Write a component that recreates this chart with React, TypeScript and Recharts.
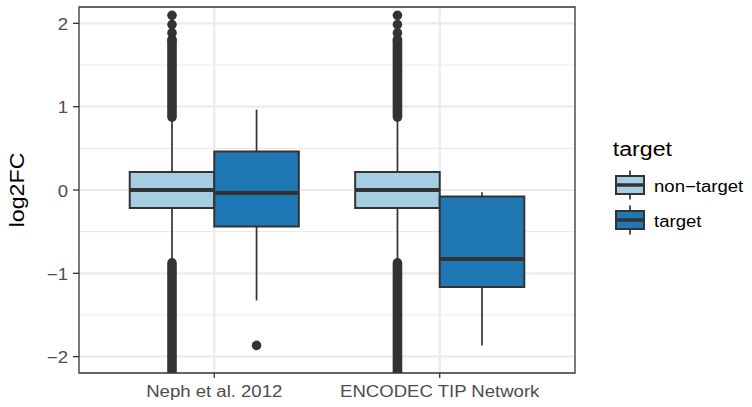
import React from "react";
import {
  ComposedChart,
  XAxis,
  YAxis,
  CartesianGrid,
  ReferenceArea,
  ReferenceLine,
  Scatter,
  Legend,
  Label,
} from "recharts";

// ---------------- data ----------------
const categories = ["Neph et al. 2012", "ENCODEC TIP Network"];
const groups = ["non\u2212target", "target"];
const legendTitle = "target";
const yAxisTitle = "log2FC";
const yTicks = [-2, -1, 0, 1, 2];
const yMinorTicks = [-1.5, -0.5, 0.5, 1.5];

// box statistics, one value per category
const nonTargetLower = [-0.86, -0.86];
const nonTargetQ1 = [-0.216, -0.216];
const nonTargetMedian = [0.0, 0.0];
const nonTargetQ3 = [0.216, 0.216];
const nonTargetUpper = [0.86, 0.86];

const targetLower = [-1.325, -1.865];
const targetQ1 = [-0.437, -1.164];
const targetMedian = [-0.036, -0.828];
const targetQ3 = [0.463, -0.077];
const targetUpper = [0.964, -0.028];

// dense runs of overlapping outlier points [from, to], per category
const nonTargetOutlierRuns = [
  [
    [0.875, 1.8],
    [-2.6, -0.875],
  ],
  [
    [0.875, 1.8],
    [-2.6, -0.875],
  ],
];
// individual outlier points, per category
const nonTargetOutliers = [
  [2.096, 1.985, 1.885, 1.8],
  [2.096, 1.985, 1.885, 1.8],
];
const targetOutliers = [[-1.865], []];

// ---------------- style ----------------
const FONT = "'Liberation Sans', Arial, Helvetica, sans-serif";
const STRETCH = 1.16;
const DARK = "#333333";
const groupFill = ["#a6cee3", "#1f78b4"];
const DODGE = 0.1875;
const BOX_W = 0.375;
const Y_DOMAIN: [number, number] = [-2.196, 2.196];
const X_DOMAIN: [number, number] = [0.4, 2.6];

const boxes = categories.flatMap((_, i) => [
  {
    g: 0,
    x: i + 1 - DODGE,
    lower: nonTargetLower[i],
    q1: nonTargetQ1[i],
    med: nonTargetMedian[i],
    q3: nonTargetQ3[i],
    upper: nonTargetUpper[i],
    runs: nonTargetOutlierRuns[i],
  },
  {
    g: 1,
    x: i + 1 + DODGE,
    lower: targetLower[i],
    q1: targetQ1[i],
    med: targetMedian[i],
    q3: targetQ3[i],
    upper: targetUpper[i],
    runs: [] as number[][],
  },
]);

const outlierPoints = categories.flatMap((_, i) => [
  ...nonTargetOutliers[i].map((v) => ({ x: i + 1 - DODGE, y: v })),
  ...targetOutliers[i].map((v) => ({ x: i + 1 + DODGE, y: v })),
]);

const fmtY = (v: number) => (v < 0 ? "\u2212" + Math.abs(v) : String(v));

const XTick = (props: any) => {
  const { x, y, payload } = props;
  return (
    <text
      transform={`translate(${x},${y + 18.5}) scale(${STRETCH},1)`}
      textAnchor="middle"
      fill="#4d4d4d"
      fontSize={16}
      fontFamily={FONT}
    >
      {categories[Math.round(payload.value) - 1]}
    </text>
  );
};

const YTick = (props: any) => {
  const { x, y, payload } = props;
  return (
    <text
      transform={`translate(${x - 5},${y + 1}) scale(${STRETCH},1)`}
      textAnchor="end"
      dominantBaseline="central"
      fill="#4d4d4d"
      fontSize={16}
      fontFamily={FONT}
    >
      {fmtY(payload.value)}
    </text>
  );
};

const YTitle = (props: any) => {
  const vb = props.viewBox || { x: 0, y: 7, width: 79, height: 366 };
  return (
    <text
      transform={`translate(${vb.x + 24},${vb.y + vb.height / 2}) rotate(-90) scale(${STRETCH},1)`}
      textAnchor="middle"
      fill="#000000"
      fontSize={20}
      fontFamily={FONT}
    >
      {yAxisTitle}
    </text>
  );
};

const LegendContent = () => (
  <svg width={150} height={110} style={{ display: "block" }}>
    <text
      transform={`translate(12.7,25.5) scale(${STRETCH},1)`}
      fontSize={20}
      fill="#000000"
      fontFamily={FONT}
    >
      {legendTitle}
    </text>
    {groups.map((g, i) => {
      const cy = 55 + i * 35;
      return (
        <g key={g}>
          <line x1={30} x2={30} y1={cy - 14.5} y2={cy + 14.5} stroke={DARK} strokeWidth={1.7} />
          <rect x={16} y={cy - 9} width={28} height={18} fill={groupFill[i]} stroke={DARK} strokeWidth={2} />
          <line x1={16} x2={44} y1={cy} y2={cy} stroke={DARK} strokeWidth={3.5} />
          <text
            transform={`translate(54,${cy + 1}) scale(${STRETCH},1)`}
            dominantBaseline="central"
            fontSize={16}
            fill="#000000"
            fontFamily={FONT}
          >
            {g}
          </text>
        </g>
      );
    })}
  </svg>
);

export default function App() {
  return (
    <div style={{ position: "absolute", left: 0, top: 0, background: "#ffffff" }}>
      <ComposedChart
        width={752}
        height={407}
        margin={{ top: 7, right: 177, bottom: 0, left: 0 }}
      >
        <CartesianGrid
          horizontalValues={yMinorTicks}
          vertical={false}
          stroke="#ebebeb"
          strokeWidth={1.1}
        />
        <CartesianGrid
          horizontalValues={yTicks}
          verticalValues={[1, 2]}
          stroke="#ebebeb"
          strokeWidth={2.2}
        />
        <XAxis
          type="number"
          dataKey="x"
          domain={X_DOMAIN}
          allowDataOverflow
          ticks={[1, 2]}
          interval={0}
          height={34}
          tickSize={5}
          tickMargin={0}
          axisLine={false}
          tickLine={{ stroke: DARK, strokeWidth: 1.3 }}
          tick={<XTick />}
        />
        <YAxis
          type="number"
          dataKey="y"
          domain={Y_DOMAIN}
          allowDataOverflow
          ticks={yTicks}
          interval={0}
          width={79}
          tickSize={6}
          tickMargin={0}
          axisLine={false}
          tickLine={{ stroke: DARK, strokeWidth: 1.3 }}
          tick={<YTick />}
        >
          <Label content={<YTitle />} />
        </YAxis>

        {boxes.map((b, k) => (
          <ReferenceLine
            key={"wu" + k}
            segment={[
              { x: b.x, y: b.q3 },
              { x: b.x, y: b.upper },
            ]}
            stroke={DARK}
            strokeWidth={1.7}
            ifOverflow="visible"
          />
        ))}
        {boxes.map((b, k) => (
          <ReferenceLine
            key={"wl" + k}
            segment={[
              { x: b.x, y: b.q1 },
              { x: b.x, y: b.lower },
            ]}
            stroke={DARK}
            strokeWidth={1.7}
            ifOverflow="visible"
          />
        ))}
        {boxes.flatMap((b, k) =>
          b.runs.map((r, j) => (
            <ReferenceLine
              key={"run" + k + "_" + j}
              segment={[
                { x: b.x, y: r[0] },
                { x: b.x, y: r[1] },
              ]}
              stroke={DARK}
              strokeWidth={9.6}
              strokeLinecap="round"
              ifOverflow="hidden"
            />
          ))
        )}
        {boxes.map((b, k) => (
          <ReferenceArea
            key={"box" + k}
            x1={b.x - BOX_W / 2}
            x2={b.x + BOX_W / 2}
            y1={b.q1}
            y2={b.q3}
            fill={groupFill[b.g]}
            fillOpacity={1}
            stroke={DARK}
            strokeWidth={2}
            ifOverflow="visible"
          />
        ))}
        {boxes.map((b, k) => (
          <ReferenceLine
            key={"med" + k}
            segment={[
              { x: b.x - BOX_W / 2, y: b.med },
              { x: b.x + BOX_W / 2, y: b.med },
            ]}
            stroke={DARK}
            strokeWidth={4}
            ifOverflow="visible"
          />
        ))}
        <Scatter
          data={outlierPoints}
          dataKey="y"
          isAnimationActive={false}
          shape={(p: any) => <circle cx={p.cx} cy={p.cy} r={4.8} fill={DARK} />}
        />
        <ReferenceArea
          x1={X_DOMAIN[0]}
          x2={X_DOMAIN[1]}
          y1={Y_DOMAIN[0]}
          y2={Y_DOMAIN[1]}
          fill="none"
          fillOpacity={0}
          stroke={DARK}
          strokeWidth={1.3}
          ifOverflow="visible"
        />
        <Legend
          layout="horizontal"
          verticalAlign="middle"
          align="center"
          content={<LegendContent />}
          wrapperStyle={{ left: 600, top: 130, width: 150, height: 110 }}
        />
      </ComposedChart>
    </div>
  );
}
